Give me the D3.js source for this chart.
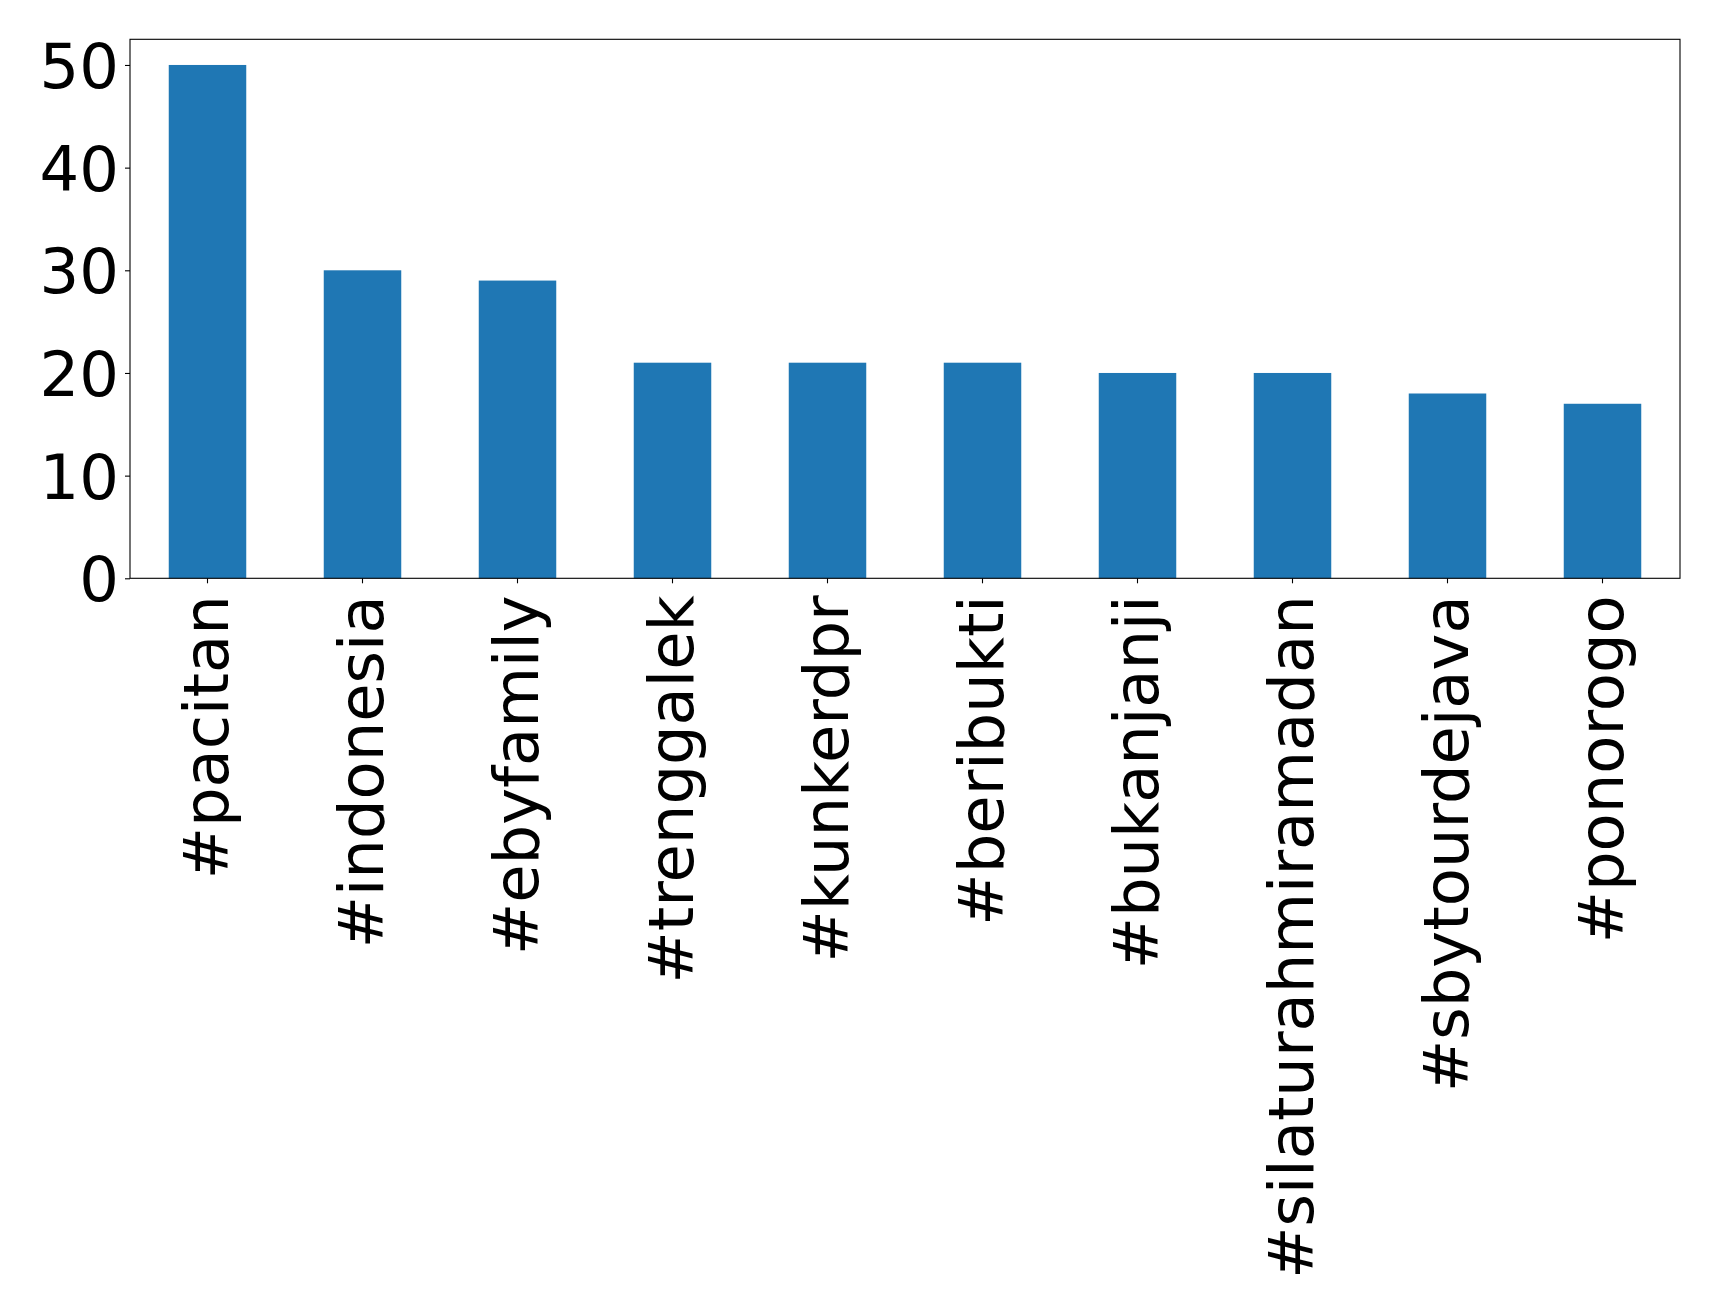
<!DOCTYPE html>
<html>
<head>
<meta charset="utf-8">
<script src="https://cdn.jsdelivr.net/npm/d3@7"></script>
<style>
  html, body { margin: 0; padding: 0; background: #fff; }
  svg { display: block; }
  text { font-family: "DejaVu Sans", sans-serif; }
</style>
</head>
<body>
<script>
const categories = ["#pacitan", "#indonesia", "#ebyfamily", "#trenggalek", "#kunkerdpr",
  "#beribukti", "#bukanjanji", "#silaturahmiramadan", "#sbytourdejava", "#ponorogo"];
const counts = [50, 30, 29, 21, 21, 21, 20, 20, 18, 17];
const yTicks = [0, 10, 20, 30, 40, 50];

const W = 1719, H = 1312;
const m = { left: 130, right: 1680, top: 39.3, bottom: 578.3 };
const fontPx = 62.4;

const svg = d3.select("body").append("svg").attr("width", W).attr("height", H);

const x = d3.scaleBand().domain(categories).range([m.left, m.right]).paddingInner(0.5).paddingOuter(0.25);
const y = d3.scaleLinear().domain([0, 52.5]).range([m.bottom, m.top]);

svg.append("g").selectAll("rect").data(counts).join("rect")
  .attr("x", (d, i) => x(categories[i]))
  .attr("width", x.bandwidth())
  .attr("y", d => y(d))
  .attr("height", d => y(0) - y(d))
  .attr("fill", "#1f77b4");

// y axis
const yAxis = d3.axisLeft(y).tickValues(yTicks).tickSize(5).tickPadding(6).tickFormat(d3.format("d"));
const gy = svg.append("g").attr("transform", `translate(${m.left},0)`).call(yAxis);
gy.select(".domain").remove();
gy.selectAll(".tick line").attr("stroke", "#000").attr("stroke-width", 1.1);
gy.selectAll(".tick text").attr("font-size", fontPx).attr("fill", "#000")
  .attr("font-family", "'DejaVu Sans', sans-serif").attr("dy", "0.36em");

// x axis
const xAxis = d3.axisBottom(x).tickSize(5).tickPadding(0);
const gx = svg.append("g").attr("transform", `translate(0,${m.bottom})`).call(xAxis);
gx.select(".domain").remove();
gx.selectAll(".tick line").attr("stroke", "#000").attr("stroke-width", 1.1);
gx.selectAll(".tick text")
  .attr("font-size", fontPx).attr("fill", "#000")
  .attr("font-family", "'DejaVu Sans', sans-serif")
  .attr("text-anchor", "end")
  .attr("transform", "translate(0,17) rotate(-90)")
  .attr("x", 0).attr("y", 0).attr("dy", "0.33em");

// frame
svg.append("rect")
  .attr("x", m.left).attr("y", m.top)
  .attr("width", m.right - m.left).attr("height", m.bottom - m.top)
  .attr("fill", "none").attr("stroke", "#000").attr("stroke-width", 1.1);
</script>
</body>
</html>
